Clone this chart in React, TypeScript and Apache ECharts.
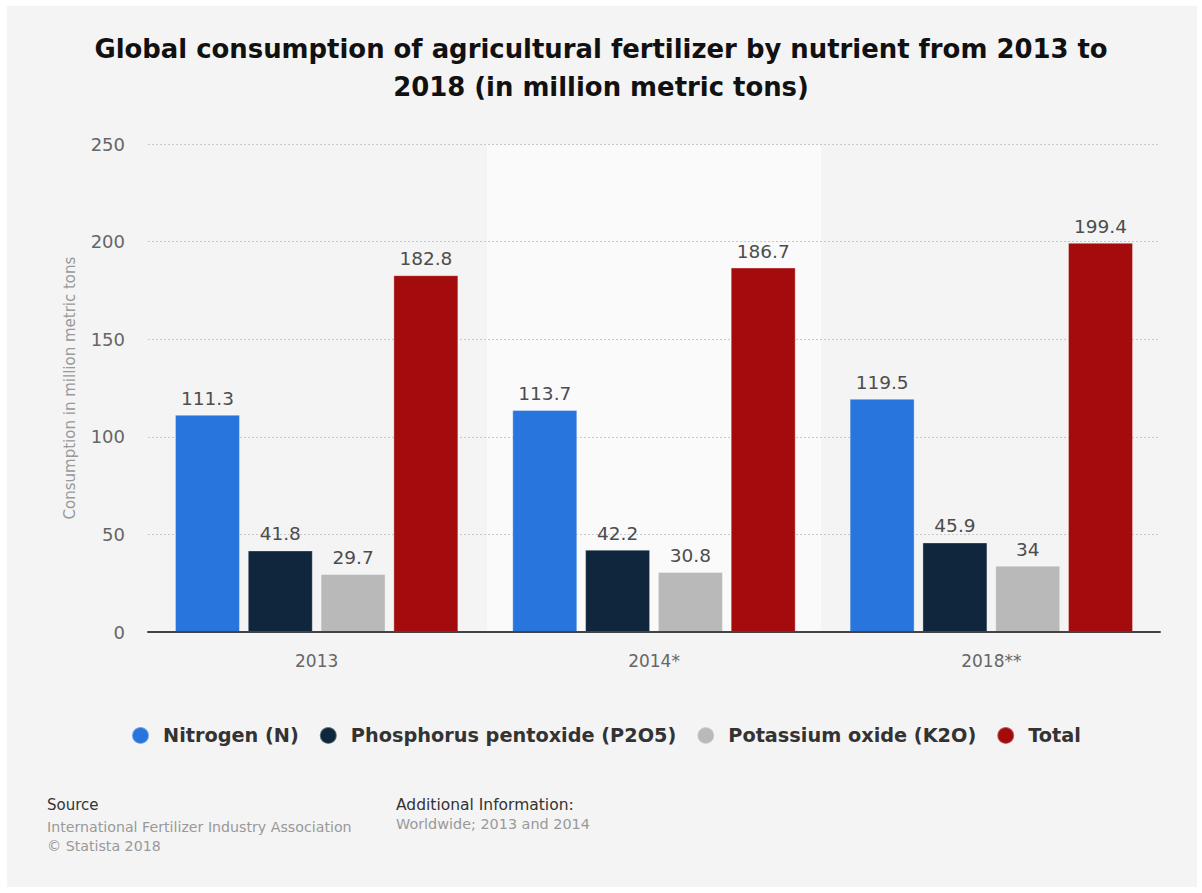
import React, { useEffect, useRef } from "react";
import * as echarts from "echarts";

const categories = ["2013", "2014*", "2018**"];
const nitrogen = [111.3, 113.7, 119.5];
const phosphorus = [41.8, 42.2, 45.9];
const potassium = [29.7, 30.8, 34];
const total = [182.8, 186.7, 199.4];
const highlight = [null, 250, null];
const seriesNames = ["Nitrogen (N)", "Phosphorus pentoxide (P2O5)", "Potassium oxide (K2O)", "Total"];
const colors = ["#2876dd", "#10263d", "#b9b9b9", "#a30b0c"];

const FONT = "'DejaVu Sans', Verdana, sans-serif";

export default function App() {
  const ref = useRef<HTMLDivElement>(null);
  useEffect(() => {
    document.body.style.margin = "0";
    const chart = echarts.init(ref.current!, null, { renderer: "svg" });
    const values = [nitrogen, phosphorus, potassium, total];
    const barSeries = values.map((d, i) => ({
      name: seriesNames[i],
      type: "bar",
      data: d,
      z: 3,
      barWidth: 65,
      barGap: "12%",
      itemStyle: { color: colors[i], borderColor: "rgba(255,255,255,0.35)", borderWidth: 1 },
      label: {
        show: true,
        position: "top",
        distance: 7,
        color: "#4d4d4d",
        fontSize: 18.5,
        fontFamily: FONT,
      },
    }));
    chart.setOption({
      animation: false,
      backgroundColor: "#ffffff",
      textStyle: { fontFamily: FONT },
      title: {
        text: "Global consumption of agricultural fertilizer by nutrient from 2013 to\n2018 (in million metric tons)",
        left: "center",
        top: 25,
        textStyle: {
          fontFamily: FONT,
          fontWeight: "bold",
          fontSize: 25.9,
          lineHeight: 38,
          color: "#111",
        },
      },
      legend: {
        data: seriesNames,
        bottom: 143,
        left: 126,
        icon: "circle",
        itemWidth: 17,
        itemHeight: 17,
        itemGap: 20,
        textStyle: {
          fontFamily: FONT,
          fontWeight: "bold",
          fontSize: 19.3,
          color: "#333",
          padding: [0, 0, 0, 9],
        },
      },
      grid: { left: 148, right: 42, top: 144, bottom: 261 },
      xAxis: [
        {
          type: "category",
          data: categories,
          axisLine: { lineStyle: { color: "#444", width: 2 } },
          axisTick: { show: false },
          axisLabel: { color: "#666", fontSize: 17, margin: 20, fontFamily: FONT },
          z: 4,
        },
        {
          type: "category",
          data: categories,
          show: false,
        },
      ],
      yAxis: {
        type: "value",
        min: 0,
        max: 250,
        interval: 50,
        z: 2,
        name: "Consumption in million metric tons",
        nameLocation: "middle",
        nameGap: 71,
        nameTextStyle: { color: "#999", fontSize: 15, fontFamily: FONT },
        axisLine: { show: false },
        axisTick: { show: false },
        axisLabel: { color: "#666", fontSize: 18, margin: 23, fontFamily: FONT },
        splitLine: { lineStyle: { color: "#c8c8c8", type: [2, 2], width: 1 } },
      },
      graphic: [
        {
          type: "rect",
          z: -10,
          shape: { x: 7, y: 6, width: 1190, height: 881 },
          style: { fill: "#f4f4f4" },
          silent: true,
        },
        {
          type: "text",
          left: 47,
          top: 797,
          style: { text: "Source", fill: "#333", fontSize: 15, fontFamily: FONT },
        },
        {
          type: "text",
          left: 47,
          top: 817,
          style: {
            text: "International Fertilizer Industry Association\n© Statista 2018",
            fill: "#999",
            fontSize: 14.2,
            lineHeight: 19,
            fontFamily: FONT,
          },
        },
        {
          type: "text",
          left: 396,
          top: 797,
          style: { text: "Additional Information:", fill: "#333", fontSize: 15.5, fontFamily: FONT },
        },
        {
          type: "text",
          left: 396,
          top: 817,
          style: { text: "Worldwide; 2013 and 2014", fill: "#999", fontSize: 14.4, fontFamily: FONT },
        },
      ],
      series: [
        {
          type: "bar",
          xAxisIndex: 1,
          data: highlight,
          barWidth: "99%",
          z: 1,
          silent: true,
          itemStyle: { color: "#fafafa" },
          label: { show: false },
        },
        ...barSeries,
      ],
    });
    return () => chart.dispose();
  }, []);
  return <div ref={ref} style={{ width: 1202, height: 893 }} />;
}
